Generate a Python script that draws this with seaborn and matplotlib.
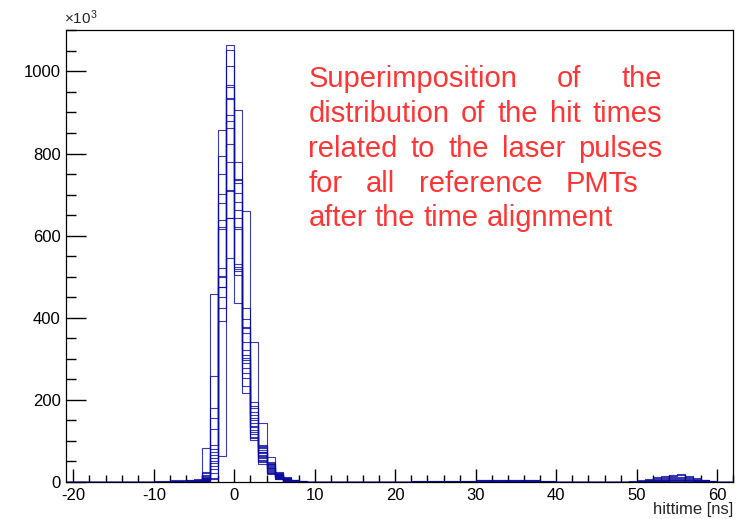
import numpy as np
import pandas as pd
import matplotlib
matplotlib.use("Agg")
import matplotlib.pyplot as plt
import seaborn as sns
from matplotlib.ticker import MultipleLocator

# ---------------- data (counts in units of 10^3) ----------------
bin_edges = list(range(-21, 63))           # 1 ns bins from -21 to 62 ns

# per-bin levels (one value per reference PMT, sorted), core region
core_bins = [-10, -9, -8, -7, -6, -5, -4, -3, -2, -1, 0, 1, 2, 3, 4, 5, 6, 7, 8, 9]
lv_m10 = [2, 1, 1]
lv_m9 = [2, 1, 1]
lv_m8 = [5, 3, 2, 1]
lv_m7 = [5, 3, 2, 1]
lv_m6 = [5, 4, 3, 2, 1]
lv_m5 = [7, 5, 4, 3, 2, 1]
lv_m4 = [82, 25, 21, 17, 14, 12, 10, 9, 8, 7, 6, 5, 4, 3, 2, 2]
lv_m3 = [459, 258, 179, 155, 128, 90, 80, 74, 66, 58, 50, 46, 40, 32, 22, 10]
lv_m2 = [858, 794, 751, 701, 680, 637, 621, 617, 520, 502, 499, 475, 474, 450, 423, 392]
lv_m1 = [1065, 1053, 1013, 968, 963, 934, 932, 893, 878, 861, 824, 780, 712, 709, 644, 642]
lv_0 = [779, 739, 735, 729, 705, 682, 662, 644, 621, 617, 530, 524, 518, 513, 505, 435]
lv_1 = [424, 398, 378, 375, 362, 340, 321, 310, 302, 297, 290, 277, 265, 253, 235, 216]
lv_2 = [195, 185, 179, 171, 163, 157, 151, 143, 136, 133, 127, 122, 118, 110, 106, 102]
lv_3 = [90, 88, 85, 82, 78, 74, 72, 70, 66, 64, 62, 58, 54, 50, 48, 45]
lv_4 = [49, 47, 45, 43, 41, 39, 37, 35, 33, 31, 29, 27, 25, 23, 21, 19]
lv_5 = [22, 21, 20, 19, 18, 17, 16, 15, 14, 13, 12, 11, 10, 9, 8, 8]
lv_6 = [10, 9, 9, 8, 8, 7, 7, 6, 6, 5, 5, 5, 4, 4, 3, 3]
lv_7 = [4, 4, 3, 3, 3, 2, 2, 2, 2, 1, 1, 1, 1]
lv_8 = [2, 2, 1, 1, 1]
lv_9 = [1, 1]

# flat low tail between 22 and 40 ns
tail_a_bins = [22, 23, 24, 25, 26, 27, 28, 29]
tail_a_levels = [3, 2, 1, 1]
tail_b_bins = [30, 31, 32, 33, 34, 35, 36, 37]
tail_b_levels = [5, 4, 3, 2, 1]
tail_c_bins = [38, 39]
tail_c_levels = [3, 2, 1]

# late bump around 55 ns
late_bins = [49, 50, 51, 52, 53, 54, 55, 56, 57, 58, 59, 60]
lv_49 = [2, 1]
lv_50 = [4, 3, 2, 1]
lv_51 = [7, 5, 4, 3, 2, 1]
lv_52 = [11, 9, 7, 5, 4, 3, 2]
lv_53 = [15, 12, 10, 8, 6, 4, 3, 2]
lv_54 = [18, 15, 12, 10, 8, 6, 4, 2]
lv_55 = [19, 16, 13, 10, 8, 6, 4, 2]
lv_56 = [15, 12, 10, 8, 6, 4, 3]
lv_57 = [10, 8, 6, 5, 4, 3, 2]
lv_58 = [6, 5, 4, 3, 2, 1]
lv_59 = [3, 2, 2, 1]
lv_60 = [1, 1]

# one PMT whose distribution sits about 1 ns later
shifted_bins = [-4, -3, -2, -1, 0, 1, 2, 3, 4, 5, 6, 7, 8, 9]
shifted_pmt = [3, 8, 63, 546, 905, 660, 341, 144, 60, 25, 13, 6, 3, 1]

n_regular = 16

# ---------------- build long table ----------------
level_map = {}
for b, lv in zip(core_bins, [lv_m10, lv_m9, lv_m8, lv_m7, lv_m6, lv_m5, lv_m4, lv_m3,
                             lv_m2, lv_m1, lv_0, lv_1, lv_2, lv_3, lv_4, lv_5, lv_6,
                             lv_7, lv_8, lv_9]):
    level_map[b] = lv
for bins, lv in [(tail_a_bins, tail_a_levels), (tail_b_bins, tail_b_levels),
                 (tail_c_bins, tail_c_levels)]:
    for b in bins:
        level_map[b] = lv
for b, lv in zip(late_bins, [lv_49, lv_50, lv_51, lv_52, lv_53, lv_54, lv_55,
                             lv_56, lv_57, lv_58, lv_59, lv_60]):
    level_map[b] = lv

rows = []
for k in range(n_regular):
    for left in bin_edges[:-1]:
        lv = level_map.get(int(left), [])
        w = lv[k] if k < len(lv) else 0
        rows.append((left + 0.5, float(w), f"pmt{k}"))
shift_map = dict(zip(shifted_bins, shifted_pmt))
for left in bin_edges[:-1]:
    rows.append((left + 0.5, float(shift_map.get(int(left), 0)), "pmt_shift"))
df = pd.DataFrame(rows, columns=["hittime", "counts", "pmt"])

# ---------------- plot ----------------
W, H = 743, 519
sns.set_style("white")
plt.rcParams["font.family"] = ["Liberation Sans", "DejaVu Sans"]
plt.rcParams["mathtext.fontset"] = "custom"
plt.rcParams["mathtext.rm"] = "Liberation Sans"
plt.rcParams["mathtext.it"] = "Liberation Sans:italic"
plt.rcParams["axes.unicode_minus"] = False

fig = plt.figure(figsize=(W / 100, H / 100), dpi=100)
ax = fig.add_axes([65.7 / W, 1 - 482 / H, (733.3 - 65.7) / W, (482 - 29.5) / H])

n_hue = df["pmt"].nunique()
sns.histplot(data=df, x="hittime", weights="counts", hue="pmt", bins=bin_edges,
             element="step", fill=False, palette=["#0a0a9e"] * n_hue,
             legend=False, linewidth=0.8, alpha=0.8, ax=ax)

ax.set_xlim(-20.95, 62.0)
ax.set_ylim(0, 1102)
ax.set_xlabel("")
ax.set_ylabel("")

ax.xaxis.set_major_locator(MultipleLocator(10))
ax.xaxis.set_minor_locator(MultipleLocator(2))
ax.yaxis.set_major_locator(MultipleLocator(200))
ax.yaxis.set_minor_locator(MultipleLocator(50))
ax.tick_params(axis="x", which="major", direction="in", length=9.4, width=1,
               labelsize=12, pad=4, bottom=True, top=False, color="black",
               labelcolor="black")
ax.tick_params(axis="x", which="minor", direction="in", length=5, width=1,
               bottom=True, top=False, color="black")
ax.tick_params(axis="y", which="major", direction="in", length=14.4, width=1,
               labelsize=12, pad=3.5, left=True, right=False, color="black",
               labelcolor="black")
ax.tick_params(axis="y", which="minor", direction="in", length=7.2, width=1,
               left=True, right=False, color="black")
for s in ax.spines.values():
    s.set_color("black")
    s.set_linewidth(0.9)
    s.set_visible(True)
ax.set_zorder(1)

fig.text(733 / W, 1 - 514 / H, "hittime [ns]", ha="right", va="baseline", fontsize=12)
fig.text(64 / W, 1 - 24 / H, r"$\times10^{3}$", ha="left", va="baseline", fontsize=11)

# ---------------- justified red annotation ----------------
red = "#ff3535"
fs = 21
lines = [
    ("Superimposition of the", 87.3, 662),
    ("distribution of the hit times", 121.7, 662),
    ("related to the laser pulses", 156.7, 662),
    ("for all reference PMTs", 191.7, 638),
    ("after the time alignment", 226.0, None),
]
fig.canvas.draw()
r = fig.canvas.get_renderer()
space_px = 0.278 * fs * 100 / 72
x0 = 308.3
for text, y_px, x1 in lines:
    words = text.split()
    ts = [fig.text(0, 1 - y_px / H, w, color=red, fontsize=fs, ha="left", va="baseline")
          for w in words]
    widths = [t.get_window_extent(r).width for t in ts]
    gap = space_px if x1 is None else (x1 - x0 - sum(widths)) / (len(words) - 1)
    x = x0
    for t, wd in zip(ts, widths):
        t.set_x(x / W)
        x += wd + gap

fig.savefig("out.png", dpi=100)
